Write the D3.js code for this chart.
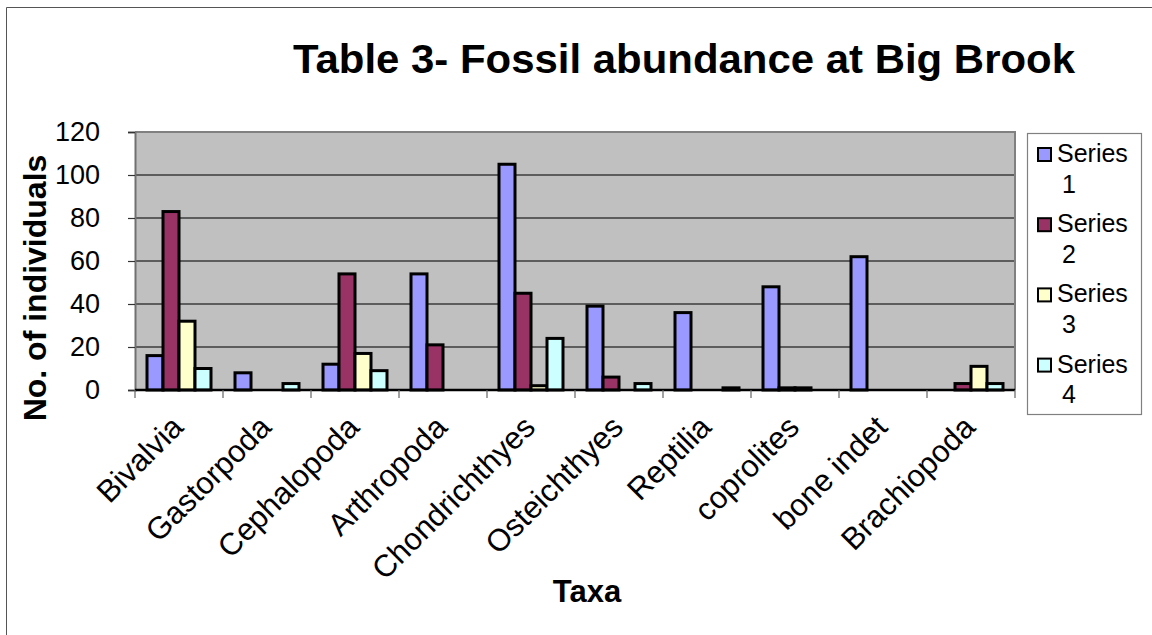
<!DOCTYPE html>
<html>
<head>
<meta charset="utf-8">
<script src="https://cdn.jsdelivr.net/npm/d3@7"></script>
<style>
  html, body { margin: 0; padding: 0; background: #fff; }
  svg { display: block; font-family: "Liberation Sans", Arial, sans-serif; }
</style>
</head>
<body>
<svg id="chart" width="1152" height="635"></svg>
<script>
// Fossil counts per taxon, one array per series
const taxa = ["Bivalvia", "Gastorpoda", "Cephalopoda", "Arthropoda", "Chondrichthyes",
              "Osteichthyes", "Reptilia", "coprolites", "bone indet", "Brachiopoda"];
const series1 = [16, 8, 12, 54, 105, 39, 36, 48, 62, 0];
const series2 = [83, 0, 54, 21, 45, 6, 0, 1, 0, 3];
const series3 = [32, 0, 17, 0, 2, 0, 0, 1, 0, 11];
const series4 = [10, 3, 9, 0, 24, 3, 1, 0, 0, 3];
const seriesNames = ["Series 1", "Series 2", "Series 3", "Series 4"];
const seriesColors = ["#9999FF", "#993366", "#FFFFCC", "#CCFFFF"];
const yTicks = [0, 20, 40, 60, 80, 100, 120];

const allSeries = [series1, series2, series3, series4];
const rows = [];
taxa.forEach((t, i) => {
  allSeries.forEach((s, j) => rows.push({ taxon: t, series: j, value: s[i] }));
});

const svg = d3.select("#chart");
const plot = { left: 135, right: 1015, top: 132, bottom: 390 };

// outer chart frame (only left and top edges fall inside the view)
svg.append("path")
  .attr("d", "M6.5,635 V7.5 H1152")
  .attr("fill", "none").attr("stroke", "#555").attr("stroke-width", 1);

const x0 = d3.scaleBand().domain(taxa).range([plot.left, plot.right]).padding(0);
const x1 = d3.scaleBand().domain(d3.range(4)).range([0, x0.bandwidth()])
  .paddingInner(0).paddingOuter(0.75);
const y = d3.scaleLinear().domain([0, 120]).range([plot.bottom, plot.top]);

// plot background
svg.append("rect")
  .attr("x", plot.left).attr("y", plot.top)
  .attr("width", plot.right - plot.left).attr("height", plot.bottom - plot.top)
  .attr("fill", "#C0C0C0");

// horizontal gridlines
svg.append("g").selectAll("line")
  .data(yTicks.filter(d => d > 0 && d < 120))
  .join("line")
  .attr("x1", plot.left).attr("x2", plot.right)
  .attr("y1", d => y(d)).attr("y2", d => y(d))
  .attr("stroke", "#3c3c3c").attr("stroke-width", 1.4);

// plot border on top and right
svg.append("path")
  .attr("d", `M${plot.left},${plot.top} H${plot.right} V${plot.bottom}`)
  .attr("fill", "none").attr("stroke", "#808080").attr("stroke-width", 2);

// bars
svg.append("g").selectAll("rect")
  .data(rows.filter(d => d.value > 0))
  .join("rect")
  .attr("x", d => x0(d.taxon) + x1(d.series))
  .attr("y", d => y(d.value))
  .attr("width", x1.bandwidth())
  .attr("height", d => y(0) - y(d.value))
  .attr("fill", d => seriesColors[d.series])
  .attr("stroke", "#000").attr("stroke-width", 3);

// y axis
const yAxis = svg.append("g")
  .attr("transform", `translate(${plot.left},0)`)
  .call(d3.axisLeft(y).tickValues(yTicks).tickSize(7).tickPadding(28));
yAxis.select(".domain").attr("stroke", "#707070").attr("stroke-width", 2);
yAxis.selectAll(".tick line").attr("stroke", "#333").attr("stroke-width", 1.2);
yAxis.selectAll(".tick text")
  .attr("font-size", 27).attr("fill", "#000")
  .attr("font-family", "'Liberation Sans', Arial, sans-serif");

// x axis with ticks at category boundaries
const xAxis = svg.append("g").attr("transform", `translate(0,${plot.bottom})`);
xAxis.append("line")
  .attr("x1", plot.left).attr("x2", plot.right)
  .attr("stroke", "#000").attr("stroke-width", 2.4);
xAxis.selectAll("line.bound")
  .data(taxa.map(t => x0(t)).concat([plot.right]))
  .join("line").attr("class", "bound")
  .attr("x1", d => d).attr("x2", d => d)
  .attr("y1", 0).attr("y2", 8)
  .attr("stroke", "#666").attr("stroke-width", 1.2);

// rotated category labels
svg.append("g").selectAll("text")
  .data(taxa)
  .join("text")
  .attr("transform", d => `translate(${x0(d) + x0.bandwidth() / 2 + 6},${plot.bottom + 39}) rotate(-45)`)
  .attr("text-anchor", "end")
  .attr("font-size", 31)
  .attr("fill", "#000")
  .text(d => d);

// chart title
svg.append("text")
  .attr("x", 684).attr("y", 73)
  .attr("text-anchor", "middle")
  .attr("font-size", 40).attr("font-weight", "bold")
  .attr("textLength", 782).attr("lengthAdjust", "spacingAndGlyphs")
  .text("Table 3- Fossil abundance at Big Brook");

// axis titles
svg.append("text")
  .attr("transform", "translate(46,288) rotate(-90)")
  .attr("text-anchor", "middle")
  .attr("font-size", 32).attr("font-weight", "bold")
  .text("No. of individuals");

svg.append("text")
  .attr("x", 587).attr("y", 602)
  .attr("text-anchor", "middle")
  .attr("font-size", 31).attr("font-weight", "bold")
  .text("Taxa");

// legend
const legend = svg.append("g");
legend.append("rect")
  .attr("x", 1027.5).attr("y", 133.5).attr("width", 114).attr("height", 281)
  .attr("fill", "#fff").attr("stroke", "#808080").attr("stroke-width", 1.2);
const entry = legend.selectAll("g.entry")
  .data(seriesNames)
  .join("g").attr("class", "entry")
  .attr("transform", (d, i) => `translate(0,${162 + i * 70.2})`);
entry.append("rect")
  .attr("x", 1038).attr("y", -14).attr("width", 13).attr("height", 13)
  .attr("fill", (d, i) => seriesColors[i])
  .attr("stroke", "#000").attr("stroke-width", 2);
entry.append("text")
  .attr("x", 1057).attr("y", 0)
  .attr("font-size", 25).attr("fill", "#000")
  .text(d => d.split(" ")[0]);
entry.append("text")
  .attr("x", 1062).attr("y", 30.5)
  .attr("font-size", 25).attr("fill", "#000")
  .text(d => d.split(" ")[1]);
</script>
</body>
</html>
